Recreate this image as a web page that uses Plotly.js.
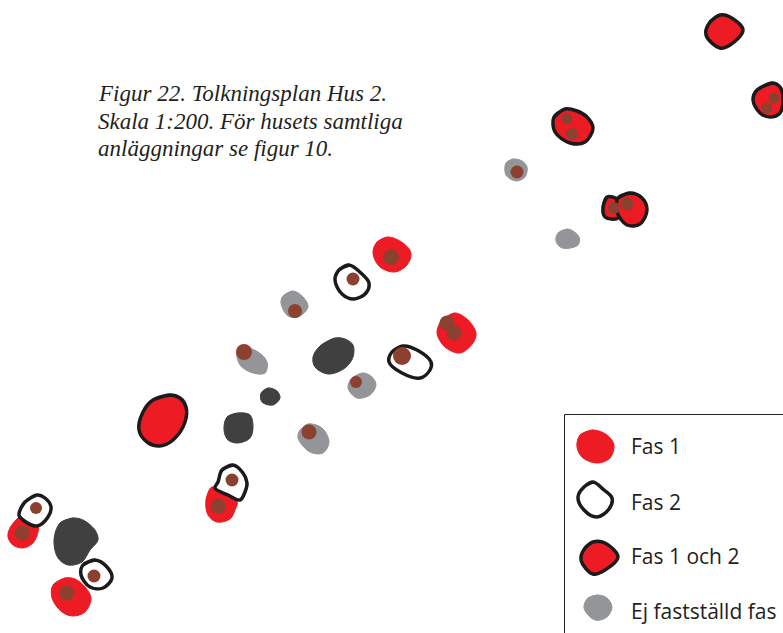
<!DOCTYPE html>
<html><head><meta charset="utf-8">
<script src="https://cdn.plot.ly/plotly-3.0.1.min.js"></script>
<style>html,body{margin:0;padding:0;background:#fff}#c{width:783px;height:633px}</style></head>
<body><div id="c"></div>
<script>
// Each outline: [x,y, x,y, ...] in plan coordinates
const darkOutlines = [
 [73,518,60,523,54,540,58,558,68,565,82,562,90,550,98,540,95,530,83,520],
 [238,413,227,417,224,430,228,440,238,443,250,438,253,427,250,415],
 [335,338,320,346,313,357,315,367,328,374,345,368,353,357,353,345,345,339],
 [268,388,261,393,262,402,273,405,280,398,277,391]
];
const grayOutlines = [
 [293,291,283,296,281,303,288,316,298,317,308,307,303,297],
 [242,347,237,352,240,365,253,373,265,373,267,362,258,352],
 [363,373,352,378,348,388,357,398,370,395,376,385,372,377],
 [308,424,300,430,298,438,310,452,323,453,329,442,322,428],
 [513,159,506,163,506,175,516,181,525,177,527,167,522,161],
 [567,229,558,233,556,241,562,248,578,245,579,237,573,231],
 [598,595,588,598,584,608,595,620,607,617,612,607,607,598]
];
const fas1Outlines = [
 [20,517,10,528,8,537,13,545,23,548,33,543,38,532,38,525,28,522],
 [65,578,53,585,52,598,62,612,73,616,85,612,91,598,85,587,75,579],
 [212,487,206,500,208,515,217,522,230,519,235,510,237,501],
 [388,237,377,242,373,253,380,267,395,272,407,265,411,253,403,243],
 [455,313,442,320,437,333,445,347,460,353,473,343,476,333,468,320],
 [593,430,580,435,577,447,583,458,598,463,610,458,614,445,607,435]
];
const fas2Outlines = [
 [37,495,25,502,19,515,23,520,37,526,48,517,51,507,45,498],
 [95,560,83,565,81,575,90,587,103,588,112,578,107,567],
 [233,465,222,470,218,482,215,488,228,495,240,500,245,492,247,483,243,473],
 [349,265,339,270,335,280,342,294,354,299,366,293,369,283,362,274],
 [403,346,392,352,389,362,402,373,420,378,430,370,431,362,417,350],
 [593,482,584,487,578,497,584,510,597,517,609,509,612,498,604,490]
];
const fas12Outlines = [
 [170,395,153,400,143,412,139,430,147,442,160,446,173,440,185,422,186,407,180,398],
 [720,15,710,22,706,35,720,48,730,45,743,30,730,17],
 [772,83,757,90,753,100,760,113,770,117,780,113,783,100,780,87],
 [565,109,554,117,555,132,570,143,585,142,593,128,587,117,577,111],
 [607,197,603,207,605,217,618,218,618,200],
 [630,193,618,198,617,212,627,225,640,224,647,210,642,198],
 [593,542,585,548,581,560,593,574,605,570,618,557,605,543]
];
const pitX = [22,36,94,67,218,232,391,353,295,447,454,402,244,356,309,774,767,567,572,517,614,627];
const pitY = [533,508,576,593,506,480,257,279,311,323,333,356,352,382,432,98,108,119,134,172,208,204];
const pitD = [15,12,13,15,15,13,16,13,14,15,15,18,16,12,15,11,11,11,12,13,12,13];
const legendLabels = ["Fas 1","Fas 2","Fas 1 och 2","Ej fastställd fas"];
const legendY = [446,502,556,611];
const captionLines = ["Figur 22. Tolkningsplan Hus 2.","Skala 1:200. För husets samtliga","anläggningar se figur 10."];
const captionY = [93,121,148];

const RED="#ed1c24", DARK="#404041", GRAY="#939598", INK="#1c1a1b", PIT="#8c4030";
function outlineTrace(o, fill, lineColor, w){
  const x=[],y=[];
  for(let i=0;i<o.length;i+=2){x.push(o[i]);y.push(o[i+1]);}
  x.push(o[0],o[2]);y.push(o[1],o[3]);
  return {type:"scatter",mode:"lines",x,y,fill:"toself",fillcolor:fill,
    line:{color:lineColor||fill,width:w||1,shape:"spline",smoothing:1},hoverinfo:"skip",showlegend:false};
}
const traces=[
  ...darkOutlines.map(o=>outlineTrace(o,DARK)),
  ...grayOutlines.map(o=>outlineTrace(o,GRAY)),
  ...fas1Outlines.map(o=>outlineTrace(o,RED)),
  ...fas2Outlines.map(o=>outlineTrace(o,"#ffffff",INK,3.5)),
  ...fas12Outlines.map(o=>outlineTrace(o,RED,INK,3.5)),
  {type:"scatter",mode:"markers",x:pitX,y:pitY,marker:{color:PIT,size:pitD,opacity:1,line:{width:0}},hoverinfo:"skip",showlegend:false}
];
const annotations=[
  ...legendLabels.map((t,i)=>({x:629,y:legendY[i],xref:"x",yref:"y",xanchor:"left",yanchor:"middle",showarrow:false,text:t,
     font:{family:"Open Sans",size:21,color:"#231f20"}})),
  ...captionLines.map((t,i)=>({x:96,y:captionY[i],xref:"x",yref:"y",xanchor:"left",yanchor:"middle",showarrow:false,text:"<i>"+t+"</i>",
     font:{family:"Liberation Serif",size:23,color:"#231f20"}}))
];
const layout={width:783,height:633,margin:{l:0,r:0,t:0,b:0},paper_bgcolor:"#fff",plot_bgcolor:"#fff",
  xaxis:{range:[0,783],visible:false,fixedrange:true},
  yaxis:{range:[633,0],visible:false,fixedrange:true},
  annotations,
  shapes:[{type:"rect",xref:"x",yref:"y",x0:564.5,x1:800,y0:414.5,y1:650,line:{color:"#231f20",width:1},fillcolor:"rgba(0,0,0,0)",layer:"below"}]
};
Plotly.newPlot("c",traces,layout,{displayModeBar:false,staticPlot:true});
</script></body></html>
